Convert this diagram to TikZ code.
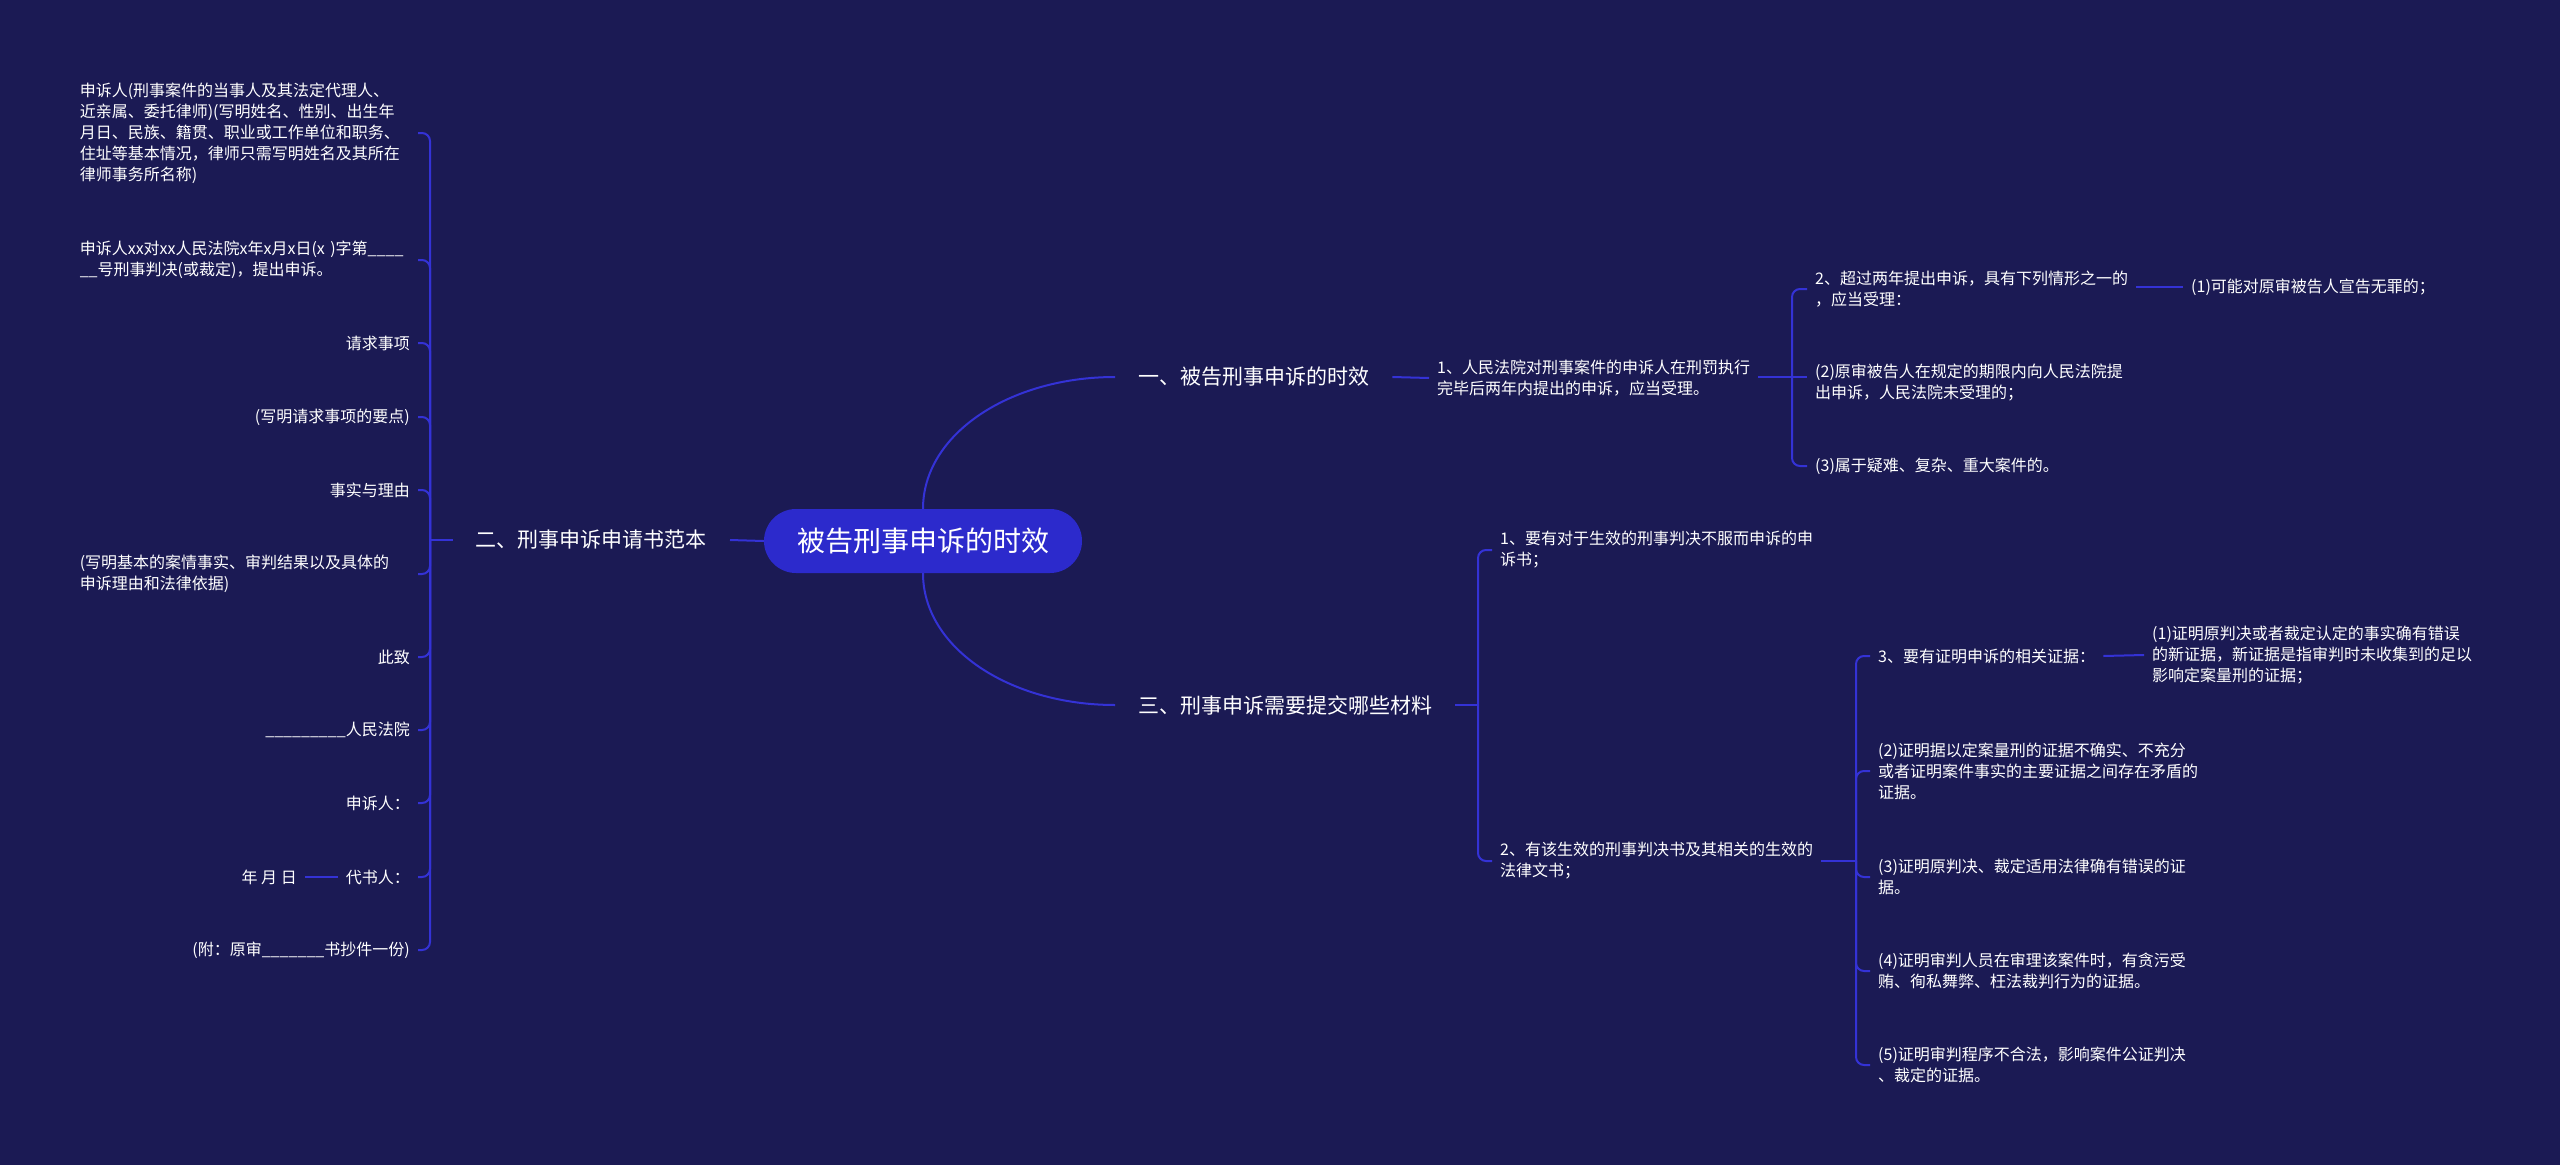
\documentclass[tikz,border=0pt]{standalone}
\usepackage{fontspec}
\setmainfont{Noto Sans CJK SC}
\usetikzlibrary{positioning}
\definecolor{bgnavy}{RGB}{27,26,84}
\definecolor{rootblue}{RGB}{44,42,204}
\definecolor{linkblue}{RGB}{52,50,214}

\begin{document}
\begin{tikzpicture}[x=1pt, y=-1pt,
    root/.style={fill=rootblue, rounded corners=32pt, minimum width=318pt, minimum height=64pt,
      text=white, font=\fontsize{28pt}{34pt}\selectfont},
    topic/.style={text=white, inner xsep=23pt, inner ysep=4pt, font=\fontsize{21pt}{26pt}\selectfont},
    leaf/.style={text=white, inner xsep=8pt, inner ysep=3pt, align=left, font=\fontsize{16pt}{21pt}\selectfont},
    wide/.style={leaf, text width=330pt},
    link/.style={draw=linkblue, line width=2pt},
    fork/.style={link, rounded corners=8pt}]
    % Canvas
    \useasboundingbox (0,0) rectangle (2560,1165);
    \fill[bgnavy] (0,0) rectangle (2560,1165);
    % Root and main topics
    \node[root] (root) at (923,541) {被告刑事申诉的时效};
    \node[topic, anchor=west] (t1) at (1115,377) {一、被告刑事申诉的时效};
    \node[topic, anchor=east] (t2) at (730,540) {二、刑事申诉申请书范本};
    \node[topic, anchor=west] (t3) at (1115,705) {三、刑事申诉需要提交哪些材料};
    \draw[link] (root.north) .. controls +(0,-75) and +(-105,0) .. (t1.west);
    \draw[link] (root.south) .. controls +(0,75) and +(-105,0) .. (t3.west);
    \draw[link] (root.west) -- (t2.east);

    % Left side: sample of the petition
    \node[wide, anchor=east] (l1) at (418,133) {申诉人(刑事案件的当事人及其法定代理人、\\近亲属、委托律师)(写明姓名、性别、出生年\\月日、民族、籍贯、职业或工作单位和职务、\\住址等基本情况，律师只需写明姓名及其所在\\律师事务所名称)};
    \node[wide, anchor=east] (l2) at (418,260) {申诉人xx对xx人民法院x年x月x日(x )字第\_\_\_\_\\\_\_号刑事判决(或裁定)，提出申诉。};
    \node[leaf, anchor=east] (l3) at (418,343) {请求事项};
    \node[leaf, anchor=east] (l4) at (418,417) {(写明请求事项的要点)};
    \node[leaf, anchor=east] (l5) at (418,490) {事实与理由};
    \node[wide, anchor=east] (l6) at (418,574) {(写明基本的案情事实、审判结果以及具体的\\申诉理由和法律依据)};
    \node[leaf, anchor=east] (l7) at (418,657) {此致};
    \node[leaf, anchor=east] (l8) at (418,730) {\_\_\_\_\_\_\_\_\_人民法院};
    \node[leaf, anchor=east] (l9) at (418,803) {申诉人：};
    \node[leaf, anchor=east] (l10) at (418,877) {代书人：};
    \node[leaf, anchor=east] (l10a) at (305,877) {年 月 日};
    \node[leaf, anchor=east] (l11) at (418,950) {(附：原审\_\_\_\_\_\_\_书抄件一份)};
    \coordinate (j2) at (430,540);
    \draw[link] (t2.west) -- (j2);
    \foreach \n in {l1,l2,l3,l4,l5,l6,l7,l8,l9,l10,l11}
      \draw[fork] (j2) |- (\n.east);
    \draw[link] (l10.west) -- (l10a.east);

    % Right side, upper: time limits
    \node[leaf, anchor=west] (c11) at (1429,378) {1、人民法院对刑事案件的申诉人在刑罚执行\\完毕后两年内提出的申诉，应当受理。};
    \draw[link] (t1.east) -- (c11.west);
    \coordinate (j1) at (1792,377);
    \node[leaf, anchor=west] (c12a) at (1807,289) {2、超过两年提出申诉，具有下列情形之一的\\，应当受理：};
    \node[leaf, anchor=west] (c12b) at (1807,382) {(2)原审被告人在规定的期限内向人民法院提\\出申诉，人民法院未受理的；};
    \node[leaf, anchor=west] (c12c) at (1807,466) {(3)属于疑难、复杂、重大案件的。};
    \node[leaf, anchor=west] (e2) at (2183,287) {(1)可能对原审被告人宣告无罪的；};
    \draw[link] (c11.east |- j1) -- (j1);
    \draw[fork] (j1) |- (c12a.west);
    \draw[link] (j1) -- (j1 -| c12b.west);
    \draw[fork] (j1) |- (c12c.west);
    \draw[link] (c12a.east |- e2.west) -- (e2.west);

    % Right side, lower: materials to submit
    \coordinate (j3) at (1478,705);
    \node[leaf, anchor=west] (c31) at (1492,550) {1、要有对于生效的刑事判决不服而申诉的申\\诉书；};
    \node[leaf, anchor=west] (c32) at (1492,861) {2、有该生效的刑事判决书及其相关的生效的\\法律文书；};
    \draw[link] (t3.east) -- (j3);
    \draw[fork] (j3) |- (c31.west);
    \draw[fork] (j3) |- (c32.west);
    \coordinate (j32) at (1856,861);
    \draw[link] (c32.east) -- (j32);
    \node[leaf, anchor=west] (d1) at (1870,656) {3、要有证明申诉的相关证据：};
    \node[leaf, anchor=west] (d2) at (1870,771) {(2)证明据以定案量刑的证据不确实、不充分\\或者证明案件事实的主要证据之间存在矛盾的\\证据。};
    \node[leaf, anchor=west] (d3) at (1870,877) {(3)证明原判决、裁定适用法律确有错误的证\\据。};
    \node[leaf, anchor=west] (d4) at (1870,971) {(4)证明审判人员在审理该案件时，有贪污受\\贿、徇私舞弊、枉法裁判行为的证据。};
    \node[leaf, anchor=west] (d5) at (1870,1065) {(5)证明审判程序不合法，影响案件公证判决\\、裁定的证据。};
    \node[leaf, anchor=west] (e1) at (2144,655) {(1)证明原判决或者裁定认定的事实确有错误\\的新证据，新证据是指审判时未收集到的足以\\影响定案量刑的证据；};
    \foreach \n in {d1,d2,d3,d4,d5}
      \draw[fork] (j32) |- (\n.west);
    \draw[link] (d1.east) -- (e1.west);
  \end{tikzpicture}
\end{document}
